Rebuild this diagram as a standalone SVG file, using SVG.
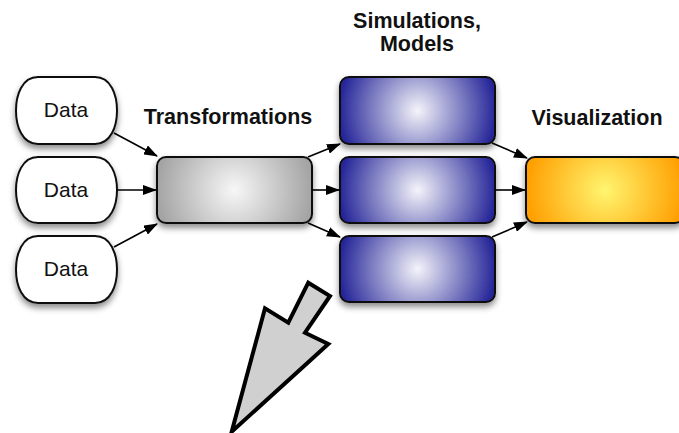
<svg xmlns="http://www.w3.org/2000/svg" width="679" height="433" viewBox="0 0 679 433">
<defs>
<style>
.lbl{font-family:"Liberation Sans",Arial,sans-serif;font-size:21.5px;font-weight:bold;fill:#111;text-anchor:middle}
.dt{font-family:"Liberation Sans",Arial,sans-serif;font-size:21px;fill:#111;text-anchor:middle}
.box{stroke:#111;stroke-width:2;filter:url(#sh)}
.conn{stroke:#000;stroke-width:1.6;fill:none;marker-end:url(#ah)}
</style>
<filter id="sh" x="-20%" y="-30%" width="140%" height="170%">
<feDropShadow dx="0" dy="4" stdDeviation="3" flood-color="#000" flood-opacity="0.45"/>
</filter>
<radialGradient id="gGray" cx="0.5" cy="0.5" r="0.5" gradientTransform="translate(0.5 0.5) scale(1 2.35) translate(-0.5 -0.5)">
<stop offset="0" stop-color="#f7f7f7"/>
<stop offset="1" stop-color="#a4a4a4"/>
</radialGradient>
<radialGradient id="gBlue" cx="0.5" cy="0.5" r="0.5" gradientTransform="translate(0.5 0.5) scale(1 2.35) translate(-0.5 -0.5)">
<stop offset="0" stop-color="#f4f4fa"/>
<stop offset="1" stop-color="#28289a"/>
</radialGradient>
<radialGradient id="gOrange" cx="0.5" cy="0.5" r="0.5" gradientTransform="translate(0.5 0.5) scale(1 2.35) translate(-0.5 -0.5)">
<stop offset="0" stop-color="#fff570"/>
<stop offset="1" stop-color="#ff9f00"/>
</radialGradient>
<marker id="ah" viewBox="0 0 14 10" refX="13" refY="5" markerWidth="14" markerHeight="10" markerUnits="userSpaceOnUse" orient="auto">
<path d="M0,0 L14,5 L0,10 Z" fill="#000"/>
</marker>
</defs>

<g id="labels">
<text class="lbl" x="228" y="124">Transformations</text>
<text class="lbl" x="417" y="28">Simulations,</text>
<text class="lbl" x="417" y="51">Models</text>
<text class="lbl" x="597" y="125">Visualization</text>
</g>

<g id="data1">
<path class="box" fill="#fff" d="M38,77 H95 C111,77 117,95 117,110.5 C117,126 111,144 95,144 H38 C22,144 16,126 16,110.5 C16,95 22,77 38,77 Z"/>
<text class="dt" x="66" y="117">Data</text>
</g>
<g id="data2">
<path class="box" fill="#fff" d="M38,157 H95 C111,157 117,175 117,190 C117,205 111,223 95,223 H38 C22,223 16,205 16,190 C16,175 22,157 38,157 Z"/>
<text class="dt" x="66" y="197">Data</text>
</g>
<g id="data3">
<path class="box" fill="#fff" d="M38,236 H95 C111,236 117,254 117,269.5 C117,285 111,303 95,303 H38 C22,303 16,285 16,269.5 C16,254 22,236 38,236 Z"/>
<text class="dt" x="66" y="276">Data</text>
</g>

<g id="transform">
<rect class="box" x="157" y="157" width="155" height="66" rx="9" fill="url(#gGray)"/>
</g>

<g id="sim1">
<rect class="box" x="340" y="77" width="155" height="67" rx="9" fill="url(#gBlue)"/>
</g>
<g id="sim2">
<rect class="box" x="340" y="157" width="155" height="66" rx="9" fill="url(#gBlue)"/>
</g>
<g id="sim3">
<rect class="box" x="340" y="236" width="155" height="66" rx="9" fill="url(#gBlue)"/>
</g>

<g id="visualization">
<rect class="box" x="526" y="157" width="158" height="66" rx="9" fill="url(#gOrange)"/>
</g>

<g id="connectors">
<line class="conn" x1="114" y1="133" x2="157" y2="156"/>
<line class="conn" x1="117" y1="190" x2="156" y2="190"/>
<line class="conn" x1="114" y1="247" x2="157" y2="224"/>
<line class="conn" x1="308" y1="157" x2="340" y2="144"/>
<line class="conn" x1="312" y1="190" x2="339" y2="190"/>
<line class="conn" x1="308" y1="223" x2="340" y2="237"/>
<line class="conn" x1="492" y1="143" x2="527" y2="158"/>
<line class="conn" x1="495" y1="190" x2="525" y2="190"/>
<line class="conn" x1="492" y1="237" x2="527" y2="222"/>
</g>

<g id="bigArrow">
<polygon points="308.3,282.7 330,296 305,332.7 328.3,344 231.7,431.7 265,308.3 288.3,322.7" fill="#d0d0d0" stroke="#000" stroke-width="4" stroke-linejoin="miter"/>
</g>
</svg>
